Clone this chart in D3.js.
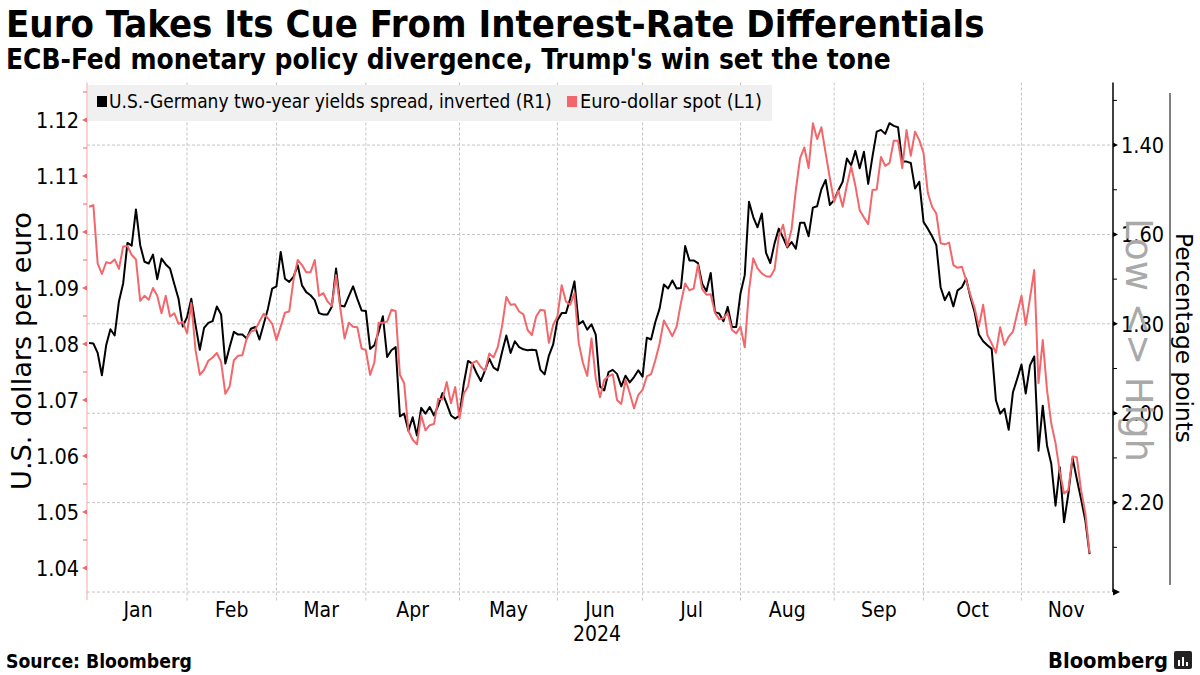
<!DOCTYPE html>
<html><head><meta charset="utf-8">
<script src="https://cdn.jsdelivr.net/npm/d3@7"></script>
<style>
body{margin:0;background:#fff}
svg{display:block}
text{font-family:"DejaVu Sans Condensed","DejaVu Sans",sans-serif}
</style>
</head><body>
<svg id="c" width="1200" height="675"></svg>
<script>
// ---------- text ----------
const titleText = "Euro Takes Its Cue From Interest-Rate Differentials";
const subtitleText = "ECB-Fed monetary policy divergence, Trump's win set the tone";
const sourceText = "Source: Bloomberg";
const seriesNames = ["U.S.-Germany two-year yields spread, inverted (R1)", "Euro-dollar spot (L1)"];
const leftAxisTitle = "U.S. dollars per euro";
const rightAxisTitle = "Percentage points";
const rightAxisHint = "Low <> High";

// ---------- categories ----------
// one value per weekday, starting Monday 1 Jan 2024
const startDate = new Date(2024, 0, 1);
const monthLabels = ["Jan","Feb","Mar","Apr","May","Jun","Jul","Aug","Sep","Oct","Nov"];
const yearLabel = "2024";

// ---------- tick values ----------
const leftTicks = [1.04,1.05,1.06,1.07,1.08,1.09,1.10,1.11,1.12];
const leftMinorTicks = [1.045,1.055,1.065,1.075,1.085,1.095,1.105,1.115,1.125];
const rightTicks = [1.40,1.60,1.80,2.00,2.20];
const rightMinorTicks = [1.30,1.50,1.70,1.90,2.10,2.30];

// ---------- series values ----------
// U.S.-Germany 2y spread, inverted (right axis, percentage points)
const spread = [
1.843,1.844,1.865,1.915,1.848,1.812,1.826,1.750,1.709,1.619,
1.625,1.544,1.624,1.661,1.665,1.645,1.700,1.654,1.667,1.676,
1.711,1.744,1.806,1.785,1.744,1.803,1.858,1.809,1.798,1.794,
1.761,1.779,1.889,1.852,1.818,1.824,1.824,1.833,1.811,1.807,
1.835,1.801,1.766,1.721,1.716,1.639,1.699,1.706,1.695,1.669,
1.714,1.729,1.736,1.747,1.776,1.779,1.779,1.762,1.676,1.759,
1.761,1.738,1.716,1.744,1.770,1.771,1.856,1.848,1.818,1.783,
1.874,1.859,1.852,2.007,2.001,2.039,2.009,2.050,1.988,2.001,
1.986,2.005,1.983,1.955,1.979,2.005,2.012,2.005,1.934,1.883,
1.889,1.910,1.928,1.904,1.878,1.898,1.904,1.863,1.826,1.865,
1.839,1.852,1.857,1.859,1.858,1.859,1.903,1.913,1.871,1.846,
1.792,1.776,1.776,1.744,1.705,1.801,1.794,1.813,1.801,1.824,
1.940,1.949,1.908,1.903,1.912,1.940,1.916,1.931,1.919,1.904,
1.918,1.831,1.835,1.796,1.766,1.712,1.721,1.703,1.721,1.720,
1.626,1.658,1.658,1.664,1.710,1.727,1.686,1.774,1.777,1.794,
1.762,1.807,1.807,1.732,1.691,1.527,1.561,1.584,1.553,1.641,
1.664,1.620,1.587,1.607,1.629,1.617,1.632,1.574,1.574,1.604,
1.540,1.537,1.499,1.478,1.534,1.523,1.501,1.482,1.430,1.445,
1.413,1.452,1.415,1.487,1.426,1.370,1.366,1.375,1.351,1.357,
1.360,1.437,1.437,1.440,1.497,1.482,1.572,1.587,1.604,1.624,
1.718,1.747,1.729,1.761,1.725,1.718,1.699,1.740,1.774,1.824,
1.839,1.848,1.856,1.971,2.001,1.990,2.037,1.953,1.923,1.891,
1.956,1.893,1.873,2.084,1.983,2.072,2.113,2.207,2.121,2.244,
2.181,2.100,2.147,2.192,2.240,2.315
];
// Euro-dollar spot (left axis, U.S. dollars per euro)
const eurusd = [
1.1045,1.1048,1.0944,1.0925,1.0946,1.0944,1.0951,1.0934,1.0974,1.0975,
1.0959,1.0951,1.0877,1.0886,1.0879,1.0900,1.0886,1.0855,1.0886,1.0849,
1.0855,1.0836,1.0840,1.0819,1.0873,1.0789,1.0745,1.0754,1.0770,1.0776,
1.0784,1.0768,1.0711,1.0724,1.0771,1.0779,1.0780,1.0810,1.0822,1.0825,
1.0840,1.0854,1.0846,1.0836,1.0807,1.0831,1.0856,1.0858,1.0914,1.0950,
1.0941,1.0928,1.0928,1.0950,1.0886,1.0891,1.0876,1.0868,1.0923,1.0864,
1.0810,1.0838,1.0831,1.0830,1.0792,1.0789,1.0745,1.0767,1.0838,1.0838,
1.0840,1.0861,1.0859,1.0745,1.0730,1.0645,1.0629,1.0621,1.0673,1.0646,
1.0655,1.0657,1.0702,1.0701,1.0732,1.0694,1.0723,1.0667,1.0711,1.0724,
1.0766,1.0770,1.0759,1.0752,1.0783,1.0776,1.0795,1.0832,1.0884,1.0870,
1.0871,1.0858,1.0853,1.0825,1.0816,1.0849,1.0861,1.0860,1.0802,1.0834,
1.0849,1.0905,1.0876,1.0870,1.0891,1.0802,1.0766,1.0743,1.0810,1.0739,
1.0705,1.0736,1.0742,1.0746,1.0700,1.0693,1.0736,1.0712,1.0685,1.0709,
1.0718,1.0742,1.0746,1.0771,1.0801,1.0842,1.0828,1.0814,1.0831,1.0873,
1.0908,1.0896,1.0899,1.0941,1.0898,1.0888,1.0889,1.0856,1.0844,1.0846,
1.0855,1.0825,1.0819,1.0831,1.0794,1.0896,1.0953,1.0935,1.0926,1.0921,
1.0920,1.0933,1.0992,1.1013,1.0974,1.1005,1.1075,1.1132,1.1151,1.1114,
1.1194,1.1166,1.1187,1.1141,1.1096,1.1054,1.1074,1.1045,1.1084,1.1117,
1.1082,1.1039,1.1026,1.1014,1.1075,1.1076,1.1134,1.1118,1.1123,1.1163,
1.1163,1.1114,1.1182,1.1136,1.1179,1.1164,1.1141,1.1070,1.1045,1.1033,
1.0980,1.0978,1.0981,1.0941,1.0936,1.0938,1.0914,1.0888,1.0864,1.0831,
1.0870,1.0816,1.0801,1.0784,1.0830,1.0798,1.0813,1.0822,1.0855,1.0886,
1.0834,1.0882,1.0932,1.0730,1.0807,1.0718,1.0658,1.0623,1.0572,1.0533,
1.0539,1.0599,1.0598,1.0539,1.0498,1.0426
];

// ---------- colours ----------
const colSpread = "#000000";
const colEur = "#f2676b";

// ---------- helpers ----------
function weekdayIndex(d){
  let n = 0;
  const t = new Date(startDate);
  while (t < d){ const w = t.getDay(); if (w !== 0 && w !== 6) n++; t.setDate(t.getDate()+1); }
  return n;
}
function firstWeekday(y, m){
  const d = new Date(y, m, 1);
  while (d.getDay() === 0 || d.getDay() === 6) d.setDate(d.getDate()+1);
  return d;
}
function fitWidth(sel, w){
  const cur = sel.node().getComputedTextLength();
  const fs = parseFloat(sel.attr("font-size"));
  sel.attr("font-size", (fs * w / cur).toFixed(2));
}

// ---------- layout ----------
const P = {left: 87, right: 1113, top: 82.5, bottom: 592};
const svg = d3.select("#c");

const monthStarts = d3.range(0, 12).map(m => weekdayIndex(firstWeekday(2024, m)));
const endIndex = monthStarts[11];

const x = d3.scaleLinear().domain([-0.5, endIndex + 0.5]).range([P.left, P.right]);
const yL = d3.scaleLinear().domain([1.12 - (P.bottom - 120) / 5600, 1.12 + (120 - P.top) / 5600]).range([P.bottom, P.top]);
const yR = d3.scaleLinear().domain([1.26, 2.40]).range([P.top, P.bottom]);

// ---------- titles ----------
const t1 = svg.append("text").attr("x", 6).attr("y", 37).attr("font-size", 34).attr("font-weight", "bold").text(titleText);
fitWidth(t1, 979);
const t2 = svg.append("text").attr("x", 6).attr("y", 69).attr("font-size", 24).attr("font-weight", "bold").text(subtitleText);
fitWidth(t2, 885);

// ---------- grid ----------
const grid = svg.append("g");
grid.selectAll("line.h").data(rightTicks.concat([2.40])).join("line")
  .attr("x1", P.left).attr("x2", P.right)
  .attr("y1", d => yR(d)).attr("y2", d => yR(d))
  .attr("stroke", "#c4c4c4").attr("stroke-width", 1).attr("stroke-dasharray", "3,2");
grid.selectAll("line.v").data(monthStarts.slice(1, 11)).join("line")
  .attr("x1", d => x(d)).attr("x2", d => x(d))
  .attr("y1", P.top).attr("y2", P.bottom + 9)
  .attr("stroke", "#c4c4c4").attr("stroke-width", 1).attr("stroke-dasharray", "3,2");

// ---------- legend ----------
const lg = svg.append("g");
lg.append("rect").attr("x", 88).attr("y", 85).attr("width", 684).attr("height", 36).attr("fill", "#f0f0f0");
lg.append("rect").attr("x", 97).attr("y", 96).attr("width", 10).attr("height", 11).attr("fill", colSpread);
const lt1 = lg.append("text").attr("x", 109).attr("y", 108).attr("font-size", 16).text(seriesNames[0]);
fitWidth(lt1, 443);
lg.append("rect").attr("x", 567).attr("y", 96).attr("width", 10).attr("height", 11).attr("fill", colEur);
const lt2 = lg.append("text").attr("x", 580).attr("y", 108).attr("font-size", 16).text(seriesNames[1]);
fitWidth(lt2, 182);

// ---------- left axis (pink) ----------
const la = svg.append("g");
la.append("line").attr("x1", P.left).attr("x2", P.left).attr("y1", P.top).attr("y2", P.bottom + 8)
  .attr("stroke", "#f6a5a7").attr("stroke-width", 1);
la.selectAll("path.maj").data(leftTicks).join("path")
  .attr("d", d => `M${P.left},${yL(d)-2.5}L${P.left-5},${yL(d)}L${P.left},${yL(d)+2.5}Z`)
  .attr("fill", colEur);
la.selectAll("line.min").data(leftMinorTicks).join("line")
  .attr("x1", P.left - 4).attr("x2", P.left).attr("y1", d => yL(d)).attr("y2", d => yL(d))
  .attr("stroke", colEur).attr("stroke-width", 1);
la.selectAll("text").data(leftTicks).join("text")
  .attr("x", 79).attr("y", d => yL(d)).attr("dy", "0.36em").attr("text-anchor", "end")
  .attr("font-size", 21.5).attr("fill", "#000").text(d => d.toFixed(2));
const lat = svg.append("text").attr("transform", "translate(31,351) rotate(-90)").attr("text-anchor", "middle")
  .attr("font-size", 26).style("font-family", "'DejaVu Sans',sans-serif").text(leftAxisTitle);
fitWidth(lat, 278);

// ---------- right axis (black) ----------
const ra = svg.append("g");
ra.append("line").attr("x1", P.right).attr("x2", P.right).attr("y1", P.top).attr("y2", P.bottom)
  .attr("stroke", "#000").attr("stroke-width", 1.5);
ra.selectAll("path.maj").data(rightTicks).join("path")
  .attr("d", d => `M${P.right},${yR(d)-2.5}L${P.right+5},${yR(d)}L${P.right},${yR(d)+2.5}Z`)
  .attr("fill", "#000");
ra.append("path").attr("d", `M${P.right},${P.bottom-3.5}L${P.right+7},${P.bottom}L${P.right},${P.bottom+3.5}Z`).attr("fill", "#000");
ra.selectAll("line.min").data(rightMinorTicks).join("line")
  .attr("x1", P.right).attr("x2", P.right + 4).attr("y1", d => yR(d)).attr("y2", d => yR(d))
  .attr("stroke", "#000").attr("stroke-width", 1);
ra.selectAll("text").data(rightTicks).join("text")
  .attr("x", 1121).attr("y", d => yR(d)).attr("dy", "0.36em")
  .attr("font-size", 21.5).attr("fill", "#000").text(d => d.toFixed(2));
const hint = svg.append("text").attr("transform", "translate(1139,340) rotate(90)").attr("text-anchor", "middle")
  .attr("dy", "0.36em").attr("font-size", 34).attr("fill", "#a9a9a9")
  .style("font-family", "'DejaVu Sans',sans-serif").text(rightAxisHint);
fitWidth(hint, 244);
svg.append("line").attr("x1", 1170).attr("x2", 1170).attr("y1", 93).attr("y2", 585).attr("stroke", "#000").attr("stroke-width", 1);
const rat = svg.append("text").attr("transform", "translate(1176,338) rotate(90)").attr("text-anchor", "middle")
  .attr("font-size", 22).attr("fill", "#000").style("font-family", "'DejaVu Sans',sans-serif").text(rightAxisTitle);
fitWidth(rat, 210);

// ---------- x axis labels ----------
const xa = svg.append("g");
xa.selectAll("text").data(monthLabels).join("text")
  .attr("x", (d, i) => (x(monthStarts[i]) + x(monthStarts[i+1])) / 2)
  .attr("y", 617).attr("text-anchor", "middle").attr("font-size", 21).text(d => d);
xa.append("text").attr("x", (x(monthStarts[5]) + x(monthStarts[6])) / 2 - 3).attr("y", 641)
  .attr("text-anchor", "middle").attr("font-size", 21).text(yearLabel);

// ---------- lines ----------
const lineR = d3.line().x((d, i) => x(i)).y(d => yR(d));
const lineL = d3.line().x((d, i) => x(i)).y(d => yL(d));
svg.append("path").datum(spread).attr("d", lineR).attr("fill", "none")
  .attr("stroke", colSpread).attr("stroke-width", 2).attr("stroke-linejoin", "round");
svg.append("path").datum(eurusd).attr("d", lineL).attr("fill", "none")
  .attr("stroke", colEur).attr("stroke-width", 2).attr("stroke-linejoin", "round");

// ---------- footer ----------
const src = svg.append("text").attr("x", 6).attr("y", 668).attr("font-size", 16).attr("font-weight", "bold").text(sourceText);
fitWidth(src, 186);
const bb = svg.append("text").attr("x", 1048).attr("y", 668).attr("font-size", 22).attr("font-weight", "bold").text("Bloomberg");
fitWidth(bb, 120);
const logo = svg.append("g").attr("transform", "translate(1174,651)");
logo.append("rect").attr("width", 18).attr("height", 18).attr("rx", 2).attr("fill", "#222");
[[4,9,2,6],[8,6,2,9],[12,11,2,4]].forEach(b => logo.append("rect").attr("x", b[0]).attr("y", b[1]).attr("width", b[2]).attr("height", b[3]).attr("fill", "#fff"));
</script>
</body></html>
